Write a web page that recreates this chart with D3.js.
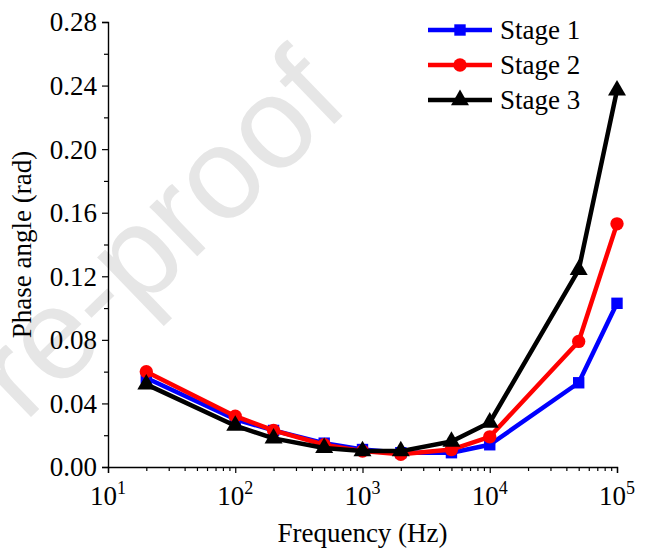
<!DOCTYPE html>
<html>
<head>
<meta charset="utf-8">
<script src="https://cdn.jsdelivr.net/npm/d3@7/dist/d3.min.js"></script>
<style>
  html, body { margin: 0; padding: 0; background: #fff; }
  svg { display: block; }
  svg text.serif { font-family: "Liberation Serif", "Times New Roman", Times, serif; }
</style>
</head>
<body>
<svg id="chart"></svg>
<script>
// frequencies (Hz)
const freq = [20, 100, 200, 500, 1000, 2000, 5000, 10000, 50000, 100000];
// phase angle (rad) per stage
const stage1 = [0.056, 0.030, 0.023, 0.015, 0.011, 0.009, 0.009, 0.014, 0.053, 0.103];
const stage2 = [0.060, 0.032, 0.023, 0.014, 0.010, 0.008, 0.011, 0.019, 0.079, 0.153];
const stage3 = [0.052, 0.026, 0.018, 0.012, 0.010, 0.010, 0.016, 0.028, 0.124, 0.237];
const seriesNames = ["Stage 1", "Stage 2", "Stage 3"];
const yTicks = [0, 0.04, 0.08, 0.12, 0.16, 0.20, 0.24, 0.28];
const xTicks = [10, 100, 1000, 10000, 100000];

const W = 646, H = 552;
const margin = { top: 22, right: 29, bottom: 85, left: 108 };

const svg = d3.select("#chart").attr("width", W).attr("height", H);

// watermark
svg.append("text")
  .attr("transform", "translate(352,107) rotate(-44)")
  .attr("text-anchor", "end")
  .attr("font-family", "'Liberation Sans', Arial, sans-serif")
  .attr("font-size", 130)
  .attr("fill", "#e6e6e6")
  .text("Pre-proof");

const x = d3.scaleLog().domain([10, 1e5]).range([margin.left, W - margin.right]);
const y = d3.scaleLinear().domain([0, 0.28]).range([H - margin.bottom, margin.top]);

// minor ticks
const xMinor = [];
for (let k = 1; k < 5; k++) for (let m = 2; m < 10; m++) xMinor.push(m * Math.pow(10, k));
const yMinor = d3.range(0.02, 0.28, 0.04);

const xAxis = svg.append("g")
  .attr("transform", `translate(0,${y(0)})`)
  .call(d3.axisBottom(x).tickValues(xTicks).tickSize(6).tickFormat(""));
xAxis.append("g").call(d3.axisBottom(x).tickValues(xMinor).tickSize(4).tickFormat(""))
  .select(".domain").remove();

const yAxis = svg.append("g")
  .attr("transform", `translate(${x(10)},0)`)
  .call(d3.axisLeft(y).tickValues(yTicks).tickSize(6).tickFormat(""));
yAxis.append("g").call(d3.axisLeft(y).tickValues(yMinor).tickSize(4).tickFormat(""))
  .select(".domain").remove();

svg.selectAll(".domain").attr("stroke", "#000").attr("stroke-width", 1.4);
svg.selectAll(".tick line").attr("stroke", "#000").attr("stroke-width", 1.2);

// y tick labels
svg.append("g").selectAll("text")
  .data(yTicks)
  .join("text")
  .attr("class", "serif")
  .attr("x", x(10) - 11)
  .attr("y", d => y(d))
  .attr("dy", "0.35em")
  .attr("text-anchor", "end")
  .attr("font-size", 27)
  .text(d => d.toFixed(2));

// x tick labels 10^n
const xl = svg.append("g").selectAll("text")
  .data(xTicks)
  .join("text")
  .attr("class", "serif")
  .attr("x", d => x(d))
  .attr("y", y(0) + 38)
  .attr("text-anchor", "middle")
  .attr("font-size", 27);
xl.append("tspan").text("10");
xl.append("tspan")
  .attr("dy", -11)
  .attr("font-size", 18)
  .text(d => Math.round(Math.log10(d)));

// axis titles
svg.append("text")
  .attr("class", "serif")
  .attr("x", x(1e3))
  .attr("y", 542)
  .attr("text-anchor", "middle")
  .attr("font-size", 27)
  .text("Frequency (Hz)");

svg.append("text")
  .attr("class", "serif")
  .attr("transform", `translate(31,${(y(0) + y(0.28)) / 2}) rotate(-90)`)
  .attr("text-anchor", "middle")
  .attr("font-size", 27)
  .text("Phase angle (rad)");

// series
const colors = ["#0000ff", "#ff0000", "#000000"];
const values = [stage1, stage2, stage3];
const shapes = [d3.symbolSquare, d3.symbolCircle, d3.symbolTriangle];
const sizes = [130, 140, 140];

const line = d3.line().x(d => x(d[0])).y(d => y(d[1]));

values.forEach((vals, i) => {
  const pts = freq.map((f, j) => [f, vals[j]]);
  svg.append("path")
    .datum(pts)
    .attr("d", line)
    .attr("fill", "none")
    .attr("stroke", colors[i])
    .attr("stroke-width", 4.5)
    .attr("stroke-linejoin", "round");
  svg.append("g").selectAll("path")
    .data(pts)
    .join("path")
    .attr("transform", d => `translate(${x(d[0])},${y(d[1])})`)
    .attr("d", d3.symbol().type(shapes[i]).size(sizes[i]))
    .attr("fill", colors[i]);
});

// legend
const legend = svg.append("g").attr("transform", "translate(428,30)");
seriesNames.forEach((name, i) => {
  const row = legend.append("g").attr("transform", `translate(0,${i * 35})`);
  row.append("line")
    .attr("x1", 0).attr("x2", 64)
    .attr("stroke", colors[i]).attr("stroke-width", 4.5);
  row.append("path")
    .attr("transform", "translate(32,0)")
    .attr("d", d3.symbol().type(shapes[i]).size(sizes[i]))
    .attr("fill", colors[i]);
  row.append("text")
    .attr("class", "serif")
    .attr("x", 72)
    .attr("dy", "0.35em")
    .attr("font-size", 27)
    .text(name);
});
</script>
</body>
</html>
